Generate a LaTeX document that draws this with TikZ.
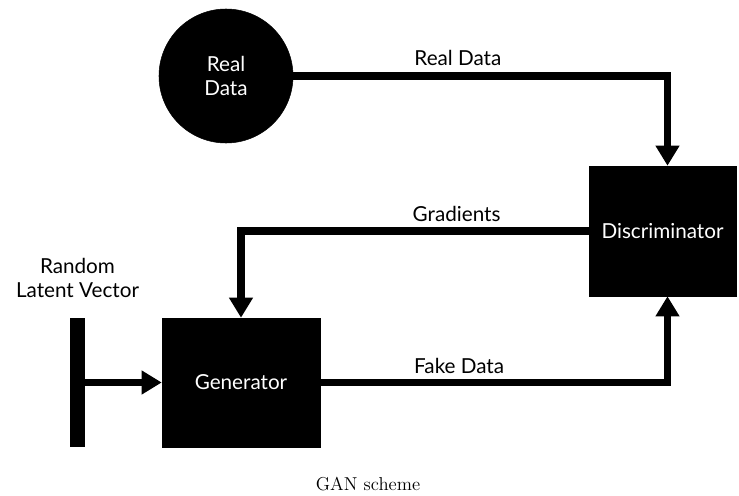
\documentclass[tikz,border=0pt]{standalone}
\usepackage{fontspec}
\usepackage{tikz}
\usetikzlibrary{
    shapes.geometric,
    arrows.meta,
    positioning,
    calc
}
\newfontfamily\labelfont{Lato}
\tikzset{
    gblock/.style={
        rectangle, draw=black, fill=black, text=white,
        inner sep=0pt, align=center, font=\labelfont\fontsize{15.5}{18}\selectfont
    },
    gsource/.style={
        circle, draw=black, fill=black, text=white, minimum size=100.5pt,
        inner sep=0pt, align=center, font=\labelfont\fontsize{15.5}{18}\selectfont
    },
    gbar/.style={
        rectangle, fill=black, minimum width=11.25pt, minimum height=96.75pt, inner sep=0pt
    },
    glabel/.style={font=\labelfont\fontsize{15.5}{18}\selectfont, text=black, inner sep=2pt},
    garr/.style={-{Triangle[length=15pt, width=17pt]}, line width=5.6pt, black},
}

\begin{document}
\begin{tikzpicture}[x=0.75pt, y=-0.75pt]

    \useasboundingbox (0,0) rectangle (739,496);

    % ── 数据源与两个网络 ──────────────────────────────────
    \node [gsource] (real) at (226,76) {Real\\Data};
    \node [gblock, minimum width=110.25pt, minimum height=97.5pt]
        (disc) at (662.5,231) {Discriminator};
    \node [gblock, minimum width=118.5pt, minimum height=96.75pt]
        (gen) at (241,382.5) {Generator};

    % ── 随机潜在向量 ──────────────────────────────────────
    \node [gbar] (latent) at (77.5,382.5) {};
    \node [glabel, align=center, above=13pt of latent] (latentlbl) {Random\\Latent Vector};

    % ── 箭头 ─────────────────────────────────────────────
    \draw [garr] (real.east) -| node[glabel, above, pos=0.22, yshift=3pt]{Real Data} ([xshift=3.75pt]disc.north);
    \draw [garr] (disc.west) -| node[glabel, above, pos=0.19, yshift=2pt]{Gradients} (gen.north);
    \draw [garr] (gen.east) -| node[glabel, above, pos=0.2, yshift=2pt]{Fake Data} ([xshift=3.75pt]disc.south);
    \draw [garr] (latent.east) -- (gen.west);

    % ── 图题 ─────────────────────────────────────────────
    \node [font=\fontsize{14}{16}\selectfont] (caption) at (368,484) {GAN scheme};

\end{tikzpicture}
\end{document}
